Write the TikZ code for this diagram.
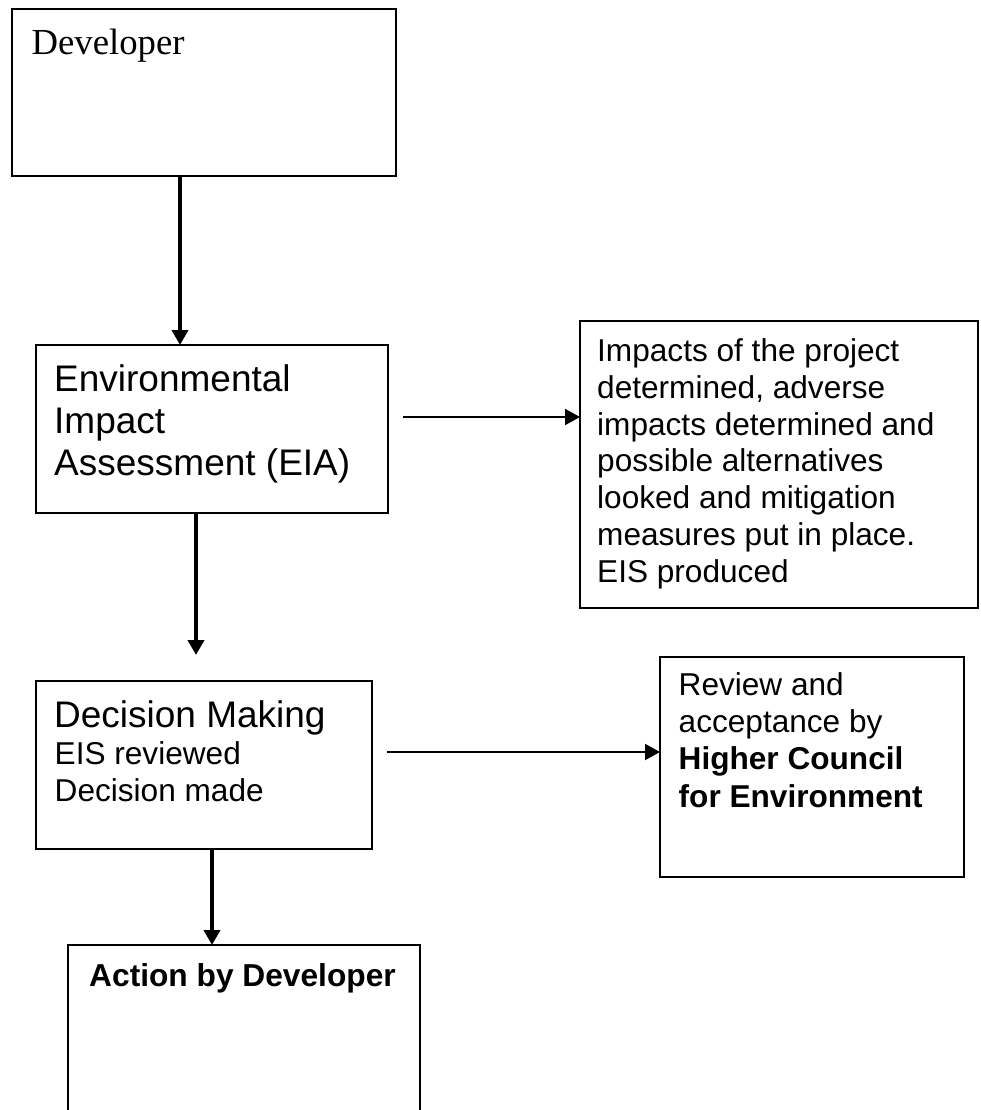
\documentclass[tikz,border=0pt]{standalone}
\usepackage{fontspec}
\setmainfont{Liberation Sans}
\newfontfamily\timesfont{Liberation Serif}
\usetikzlibrary{arrows.meta}
\begin{document}
\begin{tikzpicture}[x=1pt,y=-1pt,
  box/.style={draw, line width=2.6pt, inner sep=0pt, outer sep=0pt, anchor=north west},
  % multi-line texts are placed by the baseline of their last line
  txt/.style={inner sep=0pt, anchor=base west, align=left},
  big/.style={font=\fontsize{37pt}{42pt}\selectfont},
  body/.style={font=\fontsize{31.6pt}{36.7pt}\selectfont},
  varrow/.style={line width=4pt, -{Triangle[length=15pt,width=16pt]}},
  harrow/.style={line width=2pt, -{Triangle[length=15pt,width=16pt]}},
]
\useasboundingbox[fill=white] (0,0) rectangle (980,1110);

% boxes
\node[box, minimum width=384pt, minimum height=167pt] (dev) at (12,9) {};
\node[box, minimum width=352pt, minimum height=168pt] (eia) at (36,345) {};
\node[box, minimum width=398pt, minimum height=287pt] (imp) at (580,321) {};
\node[box, minimum width=336pt, minimum height=168pt] (dec) at (36,681) {};
\node[box, minimum width=304pt, minimum height=220pt] (rev) at (660,657) {};
\node[box, minimum width=352pt, minimum height=220pt] (act) at (68,945) {};

% texts
\node[txt, font=\timesfont\fontsize{36.7pt}{42pt}\selectfont] (devt) at (31.5,55) {Developer};
\node[txt, big] (eiat) at (54,475) {Environmental\\Impact\\Assessment (EIA)};
\node[txt, body] (impt) at (597,582) {Impacts of the project\\determined, adverse\\impacts determined and\\possible alternatives\\looked and mitigation\\measures put in place.\\EIS produced};
\node[txt, big] (dect) at (54,727) {Decision Making};
\node[txt, font=\fontsize{31.6pt}{37pt}\selectfont] (decs) at (54.5,801) {EIS reviewed\\Decision made};
\node[txt, font=\fontsize{31.6pt}{37.3pt}\selectfont] (revt) at (678.5,807) {Review and\\acceptance by\\\textbf{Higher Council}\\\textbf{for Environment}};
\node[anchor=base, inner sep=0pt, font=\bfseries\fontsize{31.7pt}{37pt}\selectfont] (actt) at (242.5,986) {Action by Developer};

% connector positions
\coordinate (c1) at (180,0);
\coordinate (c2) at (196,0);
\coordinate (c3) at (212,0);
\coordinate (e2) at (196,655);
\coordinate (h1) at (403,417);
\coordinate (h2) at (387,752);

% connectors
\draw[varrow] (dev.south -| c1) -- (eia.north -| c1);
\draw[varrow] (eia.south -| c2) -- (e2);
\draw[varrow] (dec.south -| c3) -- (act.north -| c3);
\draw[harrow] (h1) -- (h1 -| imp.west);
\draw[harrow] (h2) -- (h2 -| rev.west);
\end{tikzpicture}
\end{document}
